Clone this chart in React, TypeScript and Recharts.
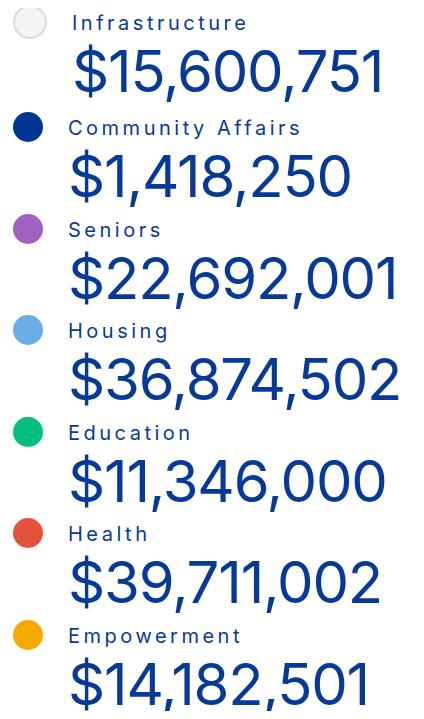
import React from "react";
import { PieChart, Pie, Cell, Legend } from "recharts";

// categories and amounts, top to bottom as in the reference
const categories = [
  "Infrastructure",
  "Community Affairs",
  "Seniors",
  "Housing",
  "Education",
  "Health",
  "Empowerment",
];
const amounts = [
  15600751, 1418250, 22692001, 36874502, 11346000, 39711002, 14182501,
];
const colors = [
  "#f4f4f4",
  "#003594",
  "#a062c0",
  "#6aade4",
  "#00bf80",
  "#e4513c",
  "#f5aa00",
];

const data = categories.map((name, i) => ({ name, value: amounts[i] }));

const TEXT = "#073a96";
const FONT = "Inter, 'Noto Sans', sans-serif";

const formatMoney = (v: number) => "$" + v.toLocaleString("en-US");

function renderLegend(props: any) {
  const payload = props.payload || [];
  return (
    <div style={{ display: "flex", flexDirection: "column" }}>
      {payload.map((entry: any, i: number) => {
        // the pale slice gets a thin grey outline so it shows on white
        const light = entry.color === "#f4f4f4";
        const amount = entry.payload?.value ?? amounts[i];
        return (
          <div
            key={entry.value}
            style={{
              display: "flex",
              alignItems: "flex-start",
              height: light ? 105 : 101.5,
            }}
          >
            <div
              style={{
                width: 30,
                height: 30,
                marginTop: light ? 3 : 5,
                marginLeft: 5,
                borderRadius: "50%",
                background: entry.color,
                border: light ? "2px solid #dcdcdc" : "none",
                flexShrink: 0,
              }}
            />
            <div
              style={{
                marginLeft: 25,
                paddingTop: 11,
                fontFamily: FONT,
                color: TEXT,
              }}
            >
              <div
                style={{
                  fontSize: 20,
                  lineHeight: "20px",
                  letterSpacing: 3.5,
                  fontWeight: 400,
                  whiteSpace: "nowrap",
                }}
              >
                {entry.value}
              </div>
              <div
                style={{
                  marginTop: 3,
                  fontSize: 58,
                  lineHeight: "70px",
                  letterSpacing: -1.2,
                  fontWeight: 400,
                  fontVariantNumeric: "proportional-nums",
                  whiteSpace: "nowrap",
                }}
              >
                {formatMoney(amount)}
              </div>
            </div>
          </div>
        );
      })}
    </div>
  );
}

export default function App() {
  return (
    <div style={{ width: 408, height: 703, background: "#fff" }}>
      <PieChart
        width={408}
        height={703}
        margin={{ top: 0, right: 0, bottom: 0, left: 0 }}
      >
        <Pie
          data={data}
          dataKey="value"
          nameKey="name"
          cx={-500}
          cy={-500}
          outerRadius={0}
          isAnimationActive={false}
          stroke="none"
        >
          {data.map((d, i) => (
            <Cell key={d.name} fill={colors[i]} />
          ))}
        </Pie>
        <Legend
          layout="vertical"
          align="left"
          verticalAlign="top"
          content={renderLegend}
          itemSorter={(item: any) => categories.indexOf(item.value)}
          wrapperStyle={{ top: -6, left: 0, width: 408 }}
        />
      </PieChart>
    </div>
  );
}
